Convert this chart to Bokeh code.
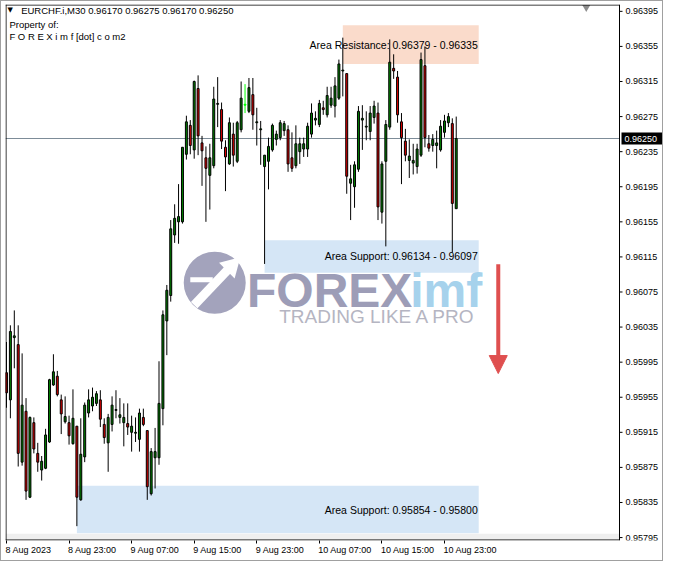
import math
from bokeh.plotting import figure
from bokeh.models import (Range1d, FixedTicker, Label, Arrow, NormalHead, LinearAxis,
                          ColumnDataSource)
from bokeh.core.properties import value
from bokeh.embed import file_html
from bokeh.resources import INLINE

# ---------------- data (EURCHF.i, M30, bars from 8 Aug 2023 15:00) ----------------
opens = [0.95983, 0.95952, 0.96023, 0.96015, 0.95881, 0.95939, 0.95841, 0.95926, 0.95891, 0.95872,
         0.95874, 0.95904, 0.95969, 0.95979, 0.95952, 0.95927, 0.95926, 0.95902, 0.95922, 0.95838,
         0.95887, 0.95937, 0.95945, 0.95948, 0.95952, 0.95924, 0.95903, 0.95924, 0.95940, 0.95932,
         0.95926, 0.95925, 0.95915, 0.95914, 0.95907, 0.95932, 0.95917, 0.95845, 0.95886, 0.95886,
         0.95942, 0.96042, 0.96071, 0.96140, 0.96155, 0.96155, 0.96232, 0.96265, 0.96237, 0.96307,
         0.96245, 0.96228, 0.96208, 0.96219, 0.96289, 0.96283, 0.96240, 0.96221, 0.96255, 0.96224,
         0.96260, 0.96288, 0.96281, 0.96300, 0.96268, 0.96260, 0.96218, 0.96224, 0.96237, 0.96249,
         0.96251, 0.96259, 0.96260, 0.96228, 0.96219, 0.96235, 0.96238, 0.96238, 0.96255, 0.96271,
         0.96266, 0.96285, 0.96277, 0.96288, 0.96287, 0.96296, 0.96327, 0.96324, 0.96199, 0.96195,
         0.96215, 0.96271, 0.96263, 0.96258, 0.96274, 0.96279, 0.96166, 0.96224, 0.96263, 0.96330,
         0.96320, 0.96269, 0.96247, 0.96225, 0.96222, 0.96218, 0.96231, 0.96333, 0.96244, 0.96242,
         0.96242, 0.96237, 0.96257, 0.96268, 0.96267, 0.96170]
highs = [0.96018, 0.96037, 0.96054, 0.96037, 0.96005, 0.95954, 0.95933, 0.95932, 0.95903, 0.95888,
         0.95919, 0.95976, 0.96004, 0.95985, 0.95958, 0.95956, 0.95934, 0.95964, 0.95922, 0.95931,
         0.95949, 0.95964, 0.95966, 0.95962, 0.95963, 0.95931, 0.95936, 0.95956, 0.95963, 0.95954,
         0.95948, 0.95948, 0.95934, 0.95932, 0.95942, 0.95942, 0.95917, 0.95897, 0.95920, 0.95996,
         0.96054, 0.96083, 0.96157, 0.96175, 0.96198, 0.96240, 0.96276, 0.96271, 0.96316, 0.96322,
         0.96253, 0.96241, 0.96244, 0.96309, 0.96320, 0.96291, 0.96248, 0.96274, 0.96268, 0.96270,
         0.96315, 0.96312, 0.96319, 0.96319, 0.96285, 0.96270, 0.96231, 0.96251, 0.96267, 0.96259,
         0.96271, 0.96270, 0.96265, 0.96257, 0.96265, 0.96251, 0.96251, 0.96268, 0.96290, 0.96281,
         0.96294, 0.96293, 0.96309, 0.96309, 0.96320, 0.96340, 0.96365, 0.96324, 0.96220, 0.96224,
         0.96287, 0.96288, 0.96281, 0.96287, 0.96293, 0.96291, 0.96224, 0.96271, 0.96363, 0.96346,
         0.96327, 0.96279, 0.96261, 0.96249, 0.96244, 0.96244, 0.96348, 0.96355, 0.96254, 0.96255,
         0.96259, 0.96271, 0.96277, 0.96279, 0.96273, 0.96275]
lows = [0.95943, 0.95931, 0.95988, 0.95876, 0.95877, 0.95838, 0.95840, 0.95891, 0.95870, 0.95860,
        0.95873, 0.95903, 0.95968, 0.95956, 0.95913, 0.95925, 0.95901, 0.95901, 0.95808, 0.95837,
        0.95881, 0.95932, 0.95939, 0.95945, 0.95921, 0.95902, 0.95870, 0.95916, 0.95931, 0.95925,
        0.95899, 0.95912, 0.95893, 0.95904, 0.95893, 0.95922, 0.95838, 0.95843, 0.95851, 0.95878,
        0.95923, 0.96003, 0.96064, 0.96131, 0.96130, 0.96153, 0.96226, 0.96232, 0.96227, 0.96231,
        0.96196, 0.96155, 0.96169, 0.96216, 0.96263, 0.96238, 0.96190, 0.96220, 0.96218, 0.96222,
        0.96257, 0.96279, 0.96279, 0.96260, 0.96242, 0.96220, 0.96107, 0.96192, 0.96235, 0.96242,
        0.96248, 0.96253, 0.96212, 0.96212, 0.96216, 0.96221, 0.96229, 0.96229, 0.96251, 0.96265,
        0.96263, 0.96277, 0.96274, 0.96285, 0.96274, 0.96294, 0.96298, 0.96187, 0.96157, 0.96171,
        0.96212, 0.96237, 0.96248, 0.96248, 0.96267, 0.96157, 0.96153, 0.96127, 0.96260, 0.96318,
        0.96268, 0.96198, 0.96224, 0.96205, 0.96209, 0.96210, 0.96229, 0.96240, 0.96235, 0.96235,
        0.96216, 0.96235, 0.96251, 0.96263, 0.96120, 0.96170]
closes = [0.95960, 0.96030, 0.96025, 0.95891, 0.95946, 0.95848, 0.95932, 0.95896, 0.95881, 0.95882,
          0.95912, 0.95975, 0.95984, 0.95958, 0.95936, 0.95933, 0.95911, 0.95931, 0.95841, 0.95890,
          0.95946, 0.95952, 0.95955, 0.95959, 0.95930, 0.95909, 0.95932, 0.95946, 0.95941, 0.95935,
          0.95932, 0.95921, 0.95922, 0.95915, 0.95937, 0.95924, 0.95853, 0.95893, 0.95893, 0.95948,
          0.96049, 0.96077, 0.96147, 0.96159, 0.96161, 0.96240, 0.96269, 0.96242, 0.96315, 0.96253,
          0.96236, 0.96216, 0.96228, 0.96295, 0.96290, 0.96247, 0.96229, 0.96268, 0.96231, 0.96268,
          0.96296, 0.96289, 0.96308, 0.96277, 0.96269, 0.96261, 0.96231, 0.96241, 0.96265, 0.96255,
          0.96268, 0.96267, 0.96221, 0.96216, 0.96244, 0.96244, 0.96244, 0.96264, 0.96279, 0.96273,
          0.96290, 0.96283, 0.96299, 0.96296, 0.96310, 0.96335, 0.96328, 0.96207, 0.96204, 0.96220,
          0.96281, 0.96273, 0.96264, 0.96279, 0.96287, 0.96172, 0.96221, 0.96266, 0.96337, 0.96327,
          0.96277, 0.96251, 0.96231, 0.96230, 0.96225, 0.96238, 0.96340, 0.96251, 0.96239, 0.96249,
          0.96245, 0.96264, 0.96270, 0.96275, 0.96176, 0.96250]
highlight_bars = [61]          # bar drawn in lime by the terminal

bars_per_label = 16            # 8 hours of M30 bars
x_tick_labels = ["8 Aug 2023", "8 Aug 23:00", "9 Aug 07:00", "9 Aug 15:00", "9 Aug 23:00",
                 "10 Aug 07:00", "10 Aug 15:00", "10 Aug 23:00"]
y_ticks = [0.95795, 0.95835, 0.95875, 0.95915, 0.95955, 0.95995, 0.96035, 0.96075,
           0.96115, 0.96155, 0.96195, 0.96235, 0.96275, 0.96315, 0.96355, 0.96395]
current_price = 0.96250

# zones (price ranges) and bar index where each starts / ends
zone_names = ["Area Resistance", "Area Support", "Area Support"]
zone_top = [0.96379, 0.96134, 0.95854]
zone_bottom = [0.96335, 0.96097, 0.95800]
zone_start_bar = [86, 66, 18]
zone_end_bar = [120.75, 120.75, 120.75]
zone_colors = ["#FADBCB", "#D5E6F6", "#D5E6F6"]

# ---------------- layout helpers ----------------
W, H = 663, 561
FRAME_L, FRAME_T, FRAME_B = 4, 3, 22          # borders (px)
AXIS_PX = 618                                 # x pixel of the price-axis line


def rx(px):            # reference-picture x pixel -> bar index
    return (px - 5) / 4.0


def ry(py):            # reference-picture y pixel -> price
    return 0.96395 - (py - 11) / 89833.0


X0, AX = rx(4), rx(632)
SX = (AXIS_PX - FRAME_L) / (AX - X0)          # px per bar
X1 = AX + (W - AXIS_PX) / SX
Y0, Y1 = ry(553), ry(4)
SY = (H - FRAME_T - FRAME_B) / (Y1 - Y0)      # px per price unit


def dx(px):
    return px / SX


def dy(px):
    return px / SY


FONT = "Liberation Sans"
n = len(opens)
idx = list(range(n))

p = figure(width=W, height=H, x_range=Range1d(X0, X1), y_range=Range1d(Y0, Y1),
           output_backend="svg", toolbar_location=None, y_axis_location=None,
           min_border_left=FRAME_L, min_border_top=FRAME_T, min_border_right=0,
           min_border_bottom=FRAME_B)
p.styles = {"border": "1px solid #a0a0a0"}
p.background_fill_color = "white"
p.border_fill_color = "white"
p.outline_line_color = None
p.xgrid.visible = False
p.ygrid.visible = False

# x axis: tick marks on the default axis, left-aligned texts on a second axis
xt = [i * bars_per_label for i in range(len(x_tick_labels))]
xa = p.xaxis[0]
xa.ticker = FixedTicker(ticks=xt)
xa.major_label_overrides = {t: "" for t in xt}
xa.major_label_text_font_size = "0px"
xa.major_label_standoff = 0
xa.major_tick_out = 3
xa.major_tick_in = 0
xa.minor_tick_out = 0
xa.minor_tick_in = 0
xa.axis_line_color = None

CW = {"0": .556, "1": .556, "2": .556, "3": .556, "5": .556, "7": .556, "8": .556,
      "9": .556, " ": .278, "A": .667, "u": .556, "g": .556, ":": .278}
XFS = 9.0
half_w = [sum(CW.get(ch, .556) for ch in lab) * XFS / 2 for lab in x_tick_labels]
xt2 = [t + dx(hw) - dx(1) for t, hw in zip(xt, half_w)]
xa2 = LinearAxis(ticker=FixedTicker(ticks=xt2),
                 major_label_overrides={t: lab for t, lab in zip(xt2, x_tick_labels)})
xa2.major_tick_out = 0
xa2.major_tick_in = 0
xa2.minor_tick_out = 0
xa2.minor_tick_in = 0
xa2.axis_line_color = None
xa2.major_label_standoff = 1
xa2.major_label_text_font = FONT
xa2.major_label_text_font_size = f"{XFS}px"
xa2.major_label_text_color = "black"
p.add_layout(xa2, "below")

# zones
p.quad(left=zone_start_bar, right=zone_end_bar, top=zone_top, bottom=zone_bottom,
       fill_color=zone_colors, line_color=None)

# light strip at the bottom of the chart window
p.quad(left=[X0], right=[AX], top=[ry(546)], bottom=[Y0],
       fill_color="#EFEFEF", line_color=None)

# watermark logo
p.scatter(x=[rx(218)], y=[ry(289)], marker="circle", size=62,
          fill_color="#A3A3BC", line_color=None)
p.line(x=[rx(197), rx(231)], y=[ry(312), ry(276)], line_color="white", line_width=9)
p.scatter(x=[rx(235)], y=[ry(272)], marker="triangle", size=22, angle=-math.pi / 4,
          fill_color="white", line_color=None)
p.line(x=[rx(193), rx(216)], y=[ry(286), ry(286)], line_color="white", line_width=5)
p.text(x=[rx(251), rx(418)], y=[ry(297), ry(297)], text=["FOREX", "imf"],
       text_font=value(FONT), text_font_size="48px", text_font_style="bold",
       text_color=["#9D9DB7", "#A6D2EC"], text_baseline="middle")
p.text(x=[rx(284)], y=[ry(323.5)], text=["TRADING LIKE A PRO"], text_font=value(FONT),
       text_font_size="19px", text_color="#B5B5C2", text_baseline="middle")

# current price line
p.line(x=[X0, AX], y=[current_price, current_price], line_color="#7D8C98", line_width=1)

# candles
body_top = [max(o, c) for o, c in zip(opens, closes)]
body_bot = [min(o, c) for o, c in zip(opens, closes)]
fill, wick, body_line = [], [], []
for i, (o, c) in enumerate(zip(opens, closes)):
    if i in highlight_bars:
        fill.append("#00FF00"); wick.append("#00FF00"); body_line.append("#00FF00")
    elif c >= o:
        fill.append("#008000"); wick.append("black"); body_line.append("black")
    else:
        fill.append("#E00000"); wick.append("black"); body_line.append("black")
src = ColumnDataSource(dict(x=idx, o=opens, h=highs, l=lows, c=closes, bt=body_top,
                            bb=body_bot, fill=fill, wick=wick, bl=body_line))
p.segment(x0="x", y0="l", x1="x", y1="h", line_color="wick", line_width=1, source=src)
p.vbar(x="x", width=0.5, top="bt", bottom="bb", fill_color="fill", line_color="bl",
       line_width=1, source=src)

# red arrow
p.add_layout(Arrow(x_start=rx(508), y_start=ry(270), x_end=rx(508), y_end=ry(382),
                   line_color="#DF4F4F", line_width=4,
                   end=NormalHead(size=18, fill_color="#DF4F4F", line_color="#DF4F4F")))

# chart-shift marker
p.scatter(x=[rx(598)], y=[ry(7)], marker="inverted_triangle", size=8,
          fill_color="#8C8C8C", line_color=None)

# chart window border (left, top, bottom) and price axis line
p.segment(x0=[X0 + dx(0.5), X0, X0, AX], y0=[Y0, Y1 - dy(0.5), Y0 + dy(0.5), Y0],
          x1=[X0 + dx(0.5), AX, AX, AX], y1=[Y1, Y1 - dy(0.5), Y0 + dy(0.5), Y1],
          line_color="black", line_width=1)

# price axis: ticks and labels
p.segment(x0=[AX] * len(y_ticks), y0=y_ticks, x1=[AX + dx(3)] * len(y_ticks), y1=y_ticks,
          line_color="black", line_width=1)
p.text(x=[AX + dx(6)] * len(y_ticks), y=y_ticks, text=[f"{t:.5f}" for t in y_ticks],
       text_font=value(FONT), text_font_size="9px", text_color="black",
       text_baseline="middle", text_align="left")

# current price tag
p.quad(left=[AX + dx(2)], right=[AX + dx(44)], top=[current_price + dy(6)],
       bottom=[current_price - dy(6)], fill_color="black", line_color=None)
p.text(x=[AX + dx(5)], y=[current_price], text=[f"{current_price:.5f}"],
       text_font=value(FONT), text_font_size="9px", text_color="white",
       text_baseline="middle", text_align="left")

# zone texts
for nm, t, b in zip(zone_names, zone_top, zone_bottom):
    p.add_layout(Label(x=rx(487), y=(t + b) / 2, text=f"{nm}: {t:.5f} - {b:.5f}",
                       text_font=FONT, text_font_size="10.5px", text_color="black",
                       text_align="right", text_baseline="middle"))

# header texts
p.add_layout(Label(x=rx(6), y=ry(10), text="\u25BC", text_font="DejaVu Sans",
                   text_font_size="7px", text_color="black", text_baseline="middle"))
p.add_layout(Label(x=rx(20), y=ry(10),
                   text=f"EURCHF.i,M30  {opens[-1]:.5f} {highs[-1]:.5f} {lows[-1]:.5f} {closes[-1]:.5f}",
                   text_font=FONT, text_font_size="9.5px", text_color="black",
                   text_baseline="middle"))
p.add_layout(Label(x=rx(8), y=ry(24), text="Property of:", text_font=FONT,
                   text_font_size="9.5px", text_color="black", text_baseline="middle"))
p.add_layout(Label(x=rx(8), y=ry(37), text="F O R E X i m f [dot] c o m2", text_font=FONT,
                   text_font_size="9.5px", text_color="black", text_baseline="middle"))

open("out.html", "w").write(file_html(p, INLINE))
